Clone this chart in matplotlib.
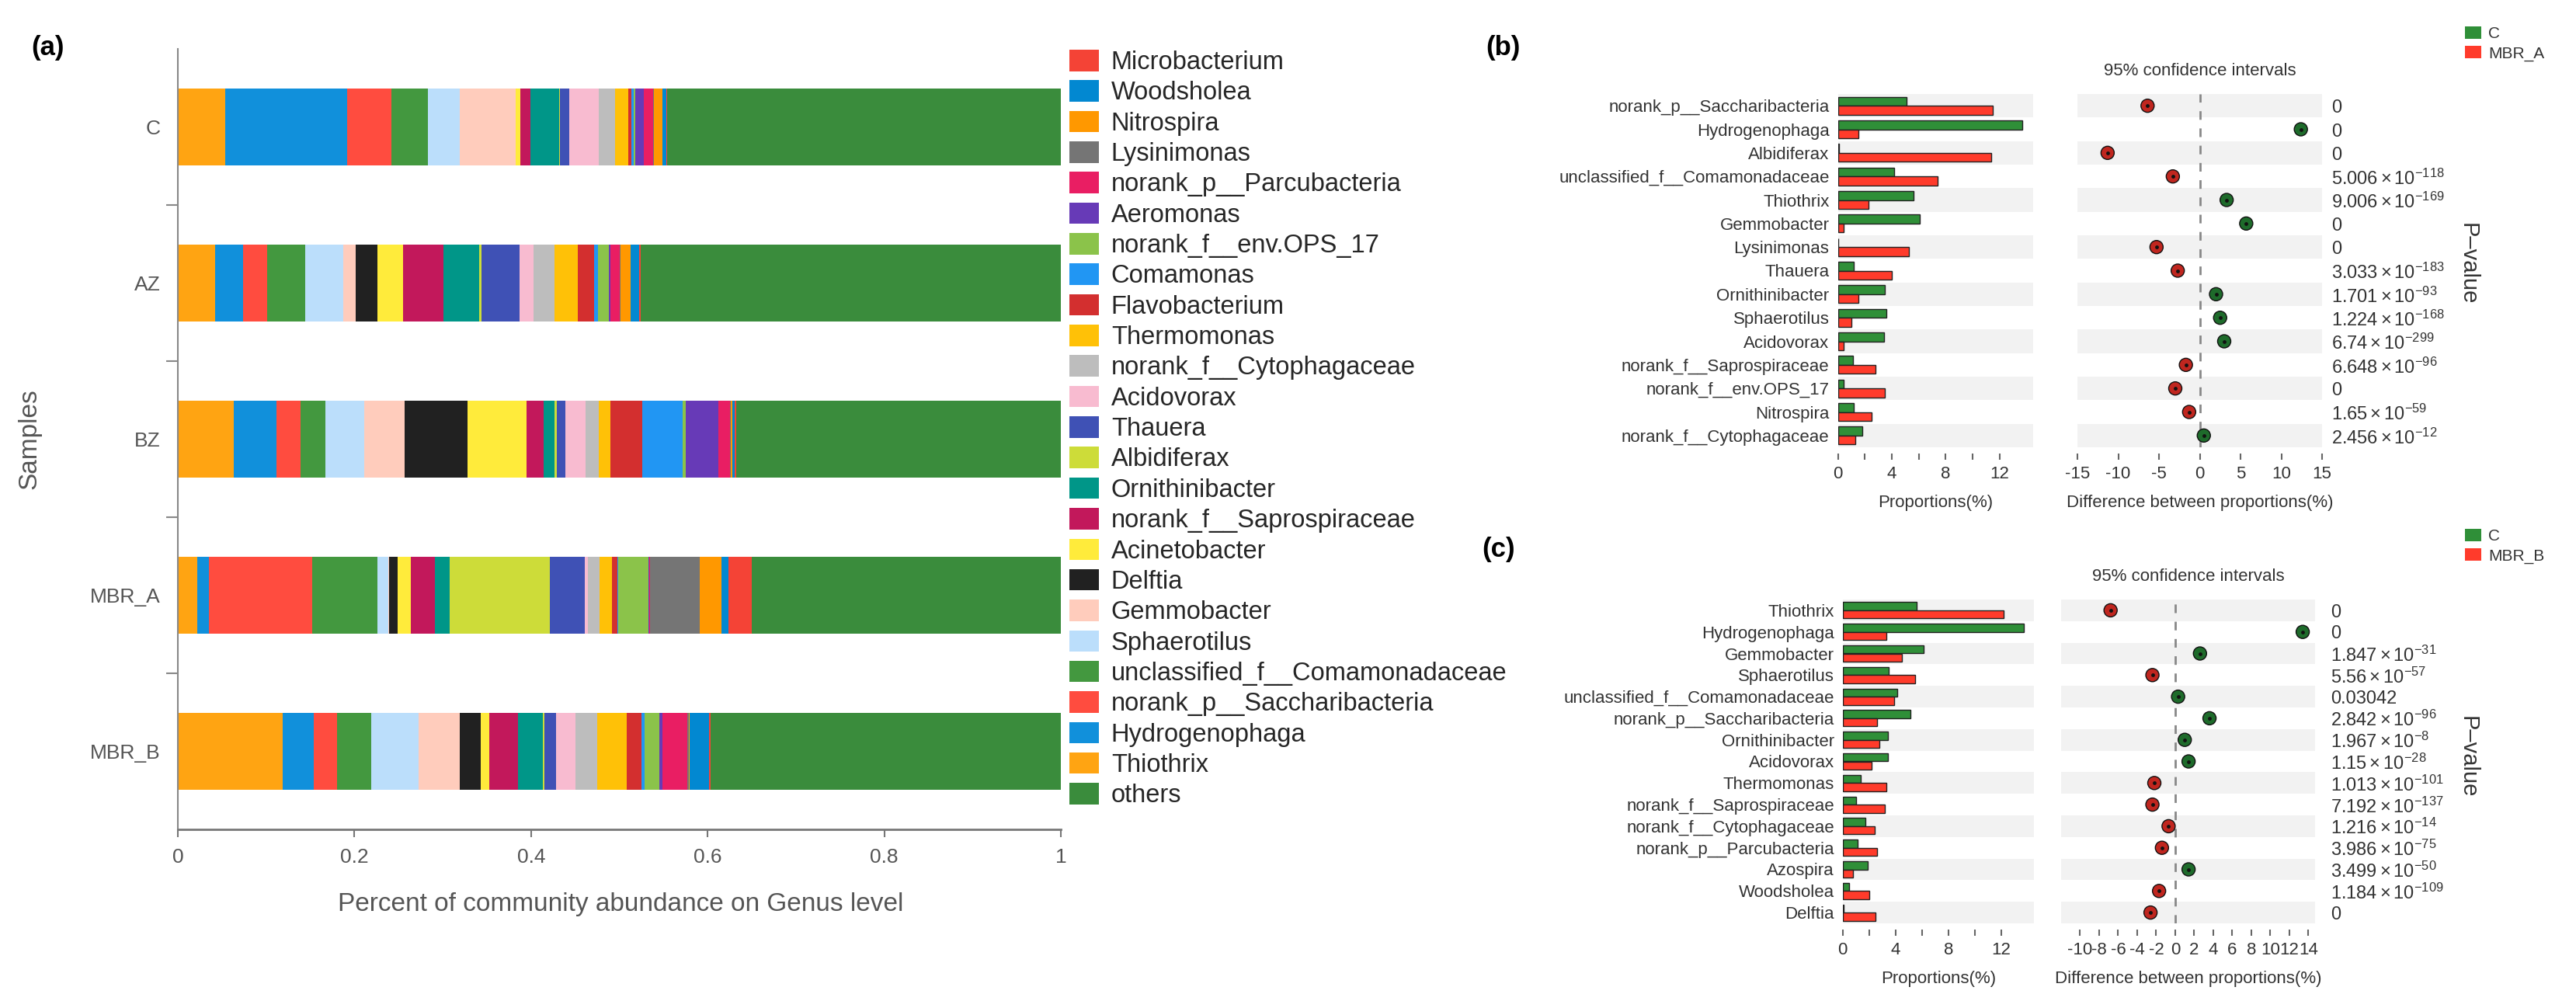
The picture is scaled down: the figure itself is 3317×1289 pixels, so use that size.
import matplotlib
matplotlib.use('Agg')
import matplotlib.pyplot as plt
from matplotlib.patches import Patch
from matplotlib.transforms import blended_transform_factory
import numpy as np

plt.rcParams['font.family'] = ['Liberation Sans', 'DejaVu Sans']
plt.rcParams['mathtext.fontset'] = 'custom'
plt.rcParams['mathtext.rm'] = 'Liberation Sans'
plt.rcParams['mathtext.it'] = 'Liberation Sans:italic'
plt.rcParams['mathtext.bf'] = 'Liberation Sans:bold'

# ---- panel (a): community composition, genus level ----
samples = ['C', 'AZ', 'BZ', 'MBR_A', 'MBR_B']
genera = ['Thiothrix', 'Hydrogenophaga', 'norank_p__Saccharibacteria',
          'unclassified_f__Comamonadaceae', 'Sphaerotilus', 'Gemmobacter',
          'Delftia', 'Acinetobacter', 'norank_f__Saprospiraceae',
          'Ornithinibacter', 'Albidiferax', 'Thauera', 'Acidovorax',
          'norank_f__Cytophagaceae', 'Thermomonas', 'Flavobacterium',
          'Comamonas', 'norank_f__env.OPS_17', 'Aeromonas',
          'norank_p__Parcubacteria', 'Lysinimonas', 'Nitrospira',
          'Woodsholea', 'Microbacterium']
genus_colors = ['#FFA412', '#1190DB', '#FF4C3F', '#43983F', '#BBDEFB', '#FFCCBC',
                '#212121', '#FFEB3B', '#C2185B', '#009688', '#CDDC39', '#3F51B5',
                '#F8BBD0', '#BDBDBD', '#FFC107', '#D32F2F', '#2196F3', '#8BC34A',
                '#673AB7', '#E91E63', '#757575', '#FF9800', '#0288D1', '#F44336']
others_color = '#3A8C3C'

ab_C = [0.054, 0.138, 0.050, 0.041, 0.036, 0.064, 0.000, 0.005, 0.011, 0.033, 0.001, 0.010,
        0.034, 0.018, 0.015, 0.004, 0.002, 0.002, 0.010, 0.010, 0.001, 0.010, 0.004, 0.001]
ab_AZ = [0.042, 0.032, 0.027, 0.043, 0.043, 0.014, 0.025, 0.029, 0.046, 0.040, 0.003, 0.043,
         0.016, 0.024, 0.026, 0.018, 0.005, 0.012, 0.002, 0.010, 0.001, 0.012, 0.009, 0.002]
ab_BZ = [0.063, 0.049, 0.027, 0.028, 0.044, 0.046, 0.071, 0.067, 0.019, 0.013, 0.002, 0.010,
         0.023, 0.015, 0.013, 0.036, 0.046, 0.003, 0.037, 0.013, 0.001, 0.002, 0.003, 0.001]
ab_MBR_A = [0.022, 0.013, 0.117, 0.074, 0.012, 0.001, 0.010, 0.015, 0.027, 0.017, 0.113, 0.040,
            0.003, 0.014, 0.014, 0.006, 0.001, 0.034, 0.001, 0.001, 0.056, 0.025, 0.008, 0.026]
ab_MBR_B = [0.119, 0.035, 0.026, 0.039, 0.054, 0.046, 0.024, 0.010, 0.032, 0.028, 0.002, 0.013,
            0.022, 0.025, 0.033, 0.017, 0.004, 0.016, 0.004, 0.028, 0.002, 0.001, 0.022, 0.001]

# ---- panel (b): C vs MBR_A ----
b_taxa = ['norank_p__Saccharibacteria', 'Hydrogenophaga', 'Albidiferax',
          'unclassified_f__Comamonadaceae', 'Thiothrix', 'Gemmobacter', 'Lysinimonas',
          'Thauera', 'Ornithinibacter', 'Sphaerotilus', 'Acidovorax',
          'norank_f__Saprospiraceae', 'norank_f__env.OPS_17', 'Nitrospira',
          'norank_f__Cytophagaceae']
b_C = [5.1, 13.7, 0.1, 4.2, 5.6, 6.1, 0.05, 1.2, 3.5, 3.6, 3.4, 1.1, 0.4, 1.2, 1.8]
b_MBR_A = [11.5, 1.5, 11.4, 7.4, 2.3, 0.4, 5.3, 4.0, 1.5, 1.0, 0.4, 2.8, 3.5, 2.5, 1.3]
b_diff = [-6.4, 12.4, -11.3, -3.3, 3.3, 5.7, -5.3, -2.7, 2.0, 2.5, 3.0, -1.7, -3.0, -1.3, 0.5]
b_p = ['0', '0', '0', '5.006e-118', '9.006e-169', '0', '0', '3.033e-183', '1.701e-93',
       '1.224e-168', '6.74e-299', '6.648e-96', '0', '1.65e-59', '2.456e-12']

# ---- panel (c): C vs MBR_B ----
c_taxa = ['Thiothrix', 'Hydrogenophaga', 'Gemmobacter', 'Sphaerotilus',
          'unclassified_f__Comamonadaceae', 'norank_p__Saccharibacteria',
          'Ornithinibacter', 'Acidovorax', 'Thermomonas', 'norank_f__Saprospiraceae',
          'norank_f__Cytophagaceae', 'norank_p__Parcubacteria', 'Azospira',
          'Woodsholea', 'Delftia']
c_C = [5.6, 13.7, 6.1, 3.5, 4.1, 5.1, 3.4, 3.4, 1.35, 1.0, 1.7, 1.1, 1.9, 0.5, 0.05]
c_MBR_B = [12.2, 3.3, 4.5, 5.5, 3.9, 2.6, 2.8, 2.2, 3.3, 3.2, 2.4, 2.6, 0.8, 2.0, 2.5]
c_diff = [-6.8, 13.4, 2.6, -2.4, 0.3, 3.6, 1.0, 1.4, -2.2, -2.4, -0.7, -1.4, 1.4, -1.7, -2.6]
c_p = ['0', '0', '1.847e-31', '5.56e-57', '0.03042', '2.842e-96', '1.967e-8', '1.15e-28',
       '1.013e-101', '7.192e-137', '1.216e-14', '3.986e-75', '3.499e-50', '1.184e-109', '0']

W, H = 3317, 1289
fig = plt.figure(figsize=(W / 100, H / 100), dpi=100)


def fax(l, t, r, b):
    return fig.add_axes([l / W, 1 - b / H, (r - l) / W, (b - t) / H])


def ptext(s):
    if 'e' not in s:
        return s
    m, e = s.split('e')
    return r'$%s\times10^{%s}$' % (m, e)


# ---------------- panel (a) ----------------
ax = fax(229, 63, 1366, 1068)
table = np.array([ab_C, ab_AZ, ab_BZ, ab_MBR_A, ab_MBR_B])
ypos = np.arange(len(samples))
left = np.zeros(len(samples))
for j, g in enumerate(genera):
    ax.barh(ypos, table[:, j], left=left, height=0.49, color=genus_colors[j], linewidth=0)
    left += table[:, j]
ax.barh(ypos, 1 - left, left=left, height=0.49, color=others_color, linewidth=0)
ax.set_ylim(len(samples) - 0.5, -0.5)
ax.set_xlim(0, 1)
ax.set_yticks(ypos)
ax.set_yticklabels(samples)
ax.set_yticks(np.arange(0.5, len(samples) - 1), minor=True)
ax.tick_params(axis='y', which='major', length=0, pad=16, labelsize=19, colors='#555555')
ax.tick_params(axis='y', which='minor', length=11, width=1.5, color='#888888')
ax.set_xticks([0, 0.2, 0.4, 0.6, 0.8, 1])
ax.set_xticklabels(['0', '0.2', '0.4', '0.6', '0.8', '1'])
ax.tick_params(axis='x', length=7, width=1.5, color='#777777', pad=10, labelsize=19,
               labelcolor='#555555')
for s in ['top', 'right']:
    ax.spines[s].set_visible(False)
ax.spines['left'].set_color('#888888')
ax.spines['bottom'].set_color('#777777')
ax.spines['left'].set_linewidth(1.5)
ax.spines['bottom'].set_linewidth(2)
fig.text(799 / W, 1 - 1165 / H, 'Percent of community abundance on Genus level',
         ha='center', va='center', fontsize=24, color='#555555')
fig.text(38 / W, 1 - 565 / H, 'Samples', ha='center', va='center', rotation=90,
         fontsize=24, color='#555555')
fig.text(62 / W, 1 - 62 / H, '(a)', ha='center', va='center', fontsize=25,
         fontweight='bold')

leg_names = genera[::-1] + ['others']
leg_cols = genus_colors[::-1] + [others_color]
handles = [Patch(facecolor=c, edgecolor='none') for c in leg_cols]
fig.legend(handles, leg_names, loc='upper left', bbox_to_anchor=(1377 / W, 1 - 64 / H),
           frameon=False, fontsize=23.5, handlelength=1.15, handleheight=0.92,
           handletextpad=0.5, labelspacing=0.225, borderpad=0, borderaxespad=0,
           labelcolor='#262626')

# ---------------- panels (b) and (c) ----------------
GREEN, RED = '#2F8F38', '#FF3B2B'
DGREEN, DRED = '#1E6B2B', '#C0261F'


def pair(ax1, ax2, taxa, g, r, diff, pv, dxlim, dticks, dlabels, p_x):
    n = len(taxa)
    y = np.arange(n)
    for a in (ax1, ax2):
        for i in range(0, n, 2):
            a.axhspan(i - 0.5, i + 0.5, color='#F2F2F2', zorder=0, linewidth=0)
        a.set_ylim(n - 0.5, -0.5)
        for s in a.spines.values():
            s.set_visible(False)
    ax1.barh(y - 0.19, g, height=0.38, color=GREEN, edgecolor='#222222', linewidth=1, zorder=2)
    ax1.barh(y + 0.19, r, height=0.38, color=RED, edgecolor='#222222', linewidth=1, zorder=2)
    ax1.set_xlim(0, 14.5)
    ax1.set_yticks(y)
    ax1.set_yticklabels(taxa)
    ax1.tick_params(axis='y', length=0, pad=8, labelsize=16, labelcolor='#333333')
    ax1.set_xticks(range(0, 13, 2))
    ax1.set_xticklabels(['0', '', '4', '', '8', '', '12'])
    ax1.spines['bottom'].set_position(('outward', 6))
    ax1.tick_params(axis='x', length=6, width=1.5, color='#666666', pad=5, labelsize=16,
                    labelcolor='#333333')
    ax1.set_xlabel('Proportions(%)', fontsize=16, color='#333333', labelpad=12)

    ax2.axvline(0, color='#888888', linestyle=(0, (4, 4)), linewidth=2, zorder=1)
    cols = [DGREEN if d > 0 else DRED for d in diff]
    ax2.scatter(diff, y, s=150, c=cols, edgecolors='#111111', linewidths=1, zorder=3)
    ax2.scatter(diff, y, s=6, c='#111111', zorder=4)
    ax2.set_xlim(*dxlim)
    ax2.set_yticks([])
    ax2.set_xticks(dticks)
    ax2.set_xticklabels(dlabels)
    ax2.spines['bottom'].set_position(('outward', 6))
    ax2.tick_params(axis='x', length=6, width=1.5, color='#666666', pad=5, labelsize=16,
                    labelcolor='#333333')
    ax2.set_xlabel('Difference between proportions(%)', fontsize=16, color='#333333',
                   labelpad=12)
    ax2.annotate('95% confidence intervals', xy=(0.5, 1), xycoords='axes fraction',
                 xytext=(0, 21), textcoords='offset points', ha='center', va='center',
                 fontsize=16, color='#333333')
    tr = blended_transform_factory(fig.transFigure, ax2.transData)
    for i, p in enumerate(pv):
        ax2.text(p_x / W, i + 0.1, ptext(p), transform=tr, ha='left', va='center',
                 fontsize=17, color='#333333')


ax_b1 = fax(2366.6, 121, 2618, 576)
ax_b2 = fax(2675, 121, 2990, 576)
pair(ax_b1, ax_b2, b_taxa, b_C, b_MBR_A, b_diff, b_p, (-15, 15),
     [-15, -10, -5, 0, 5, 10, 15], ['-15', '-10', '-5', '0', '5', '10', '15'], 3002)

ax_c1 = fax(2372.8, 772, 2619.3, 1189)
ax_c2 = fax(2654, 772, 2981, 1189)
cticks = list(range(-10, 15, 2))
pair(ax_c1, ax_c2, c_taxa, c_C, c_MBR_B, c_diff, c_p, (-12, 14.7),
     cticks, [str(t) for t in cticks], 3001)

for yc, lab2, ytop in [(340, 'MBR_A', 34), (975, 'MBR_B', 681)]:
    fig.text(3178 / W, 1 - yc / H, 'P\u2013value', rotation=-90, ha='center', va='center',
             fontsize=21, color='#333333')
    fig.legend([Patch(facecolor=GREEN), Patch(facecolor=RED)], ['C', lab2],
               loc='upper left', bbox_to_anchor=(3174 / W, 1 - ytop / H), frameon=False,
               fontsize=15, handlelength=1.0, handleheight=0.8, handletextpad=0.45,
               labelspacing=0.29, borderpad=0, borderaxespad=0, labelcolor='#333333')

fig.text(1935 / W, 1 - 62 / H, '(b)', ha='center', va='center', fontsize=25, fontweight='bold')
fig.text(1930 / W, 1 - 708 / H, '(c)', ha='center', va='center', fontsize=25, fontweight='bold')

fig.savefig('out.png', dpi=100, facecolor='white')
